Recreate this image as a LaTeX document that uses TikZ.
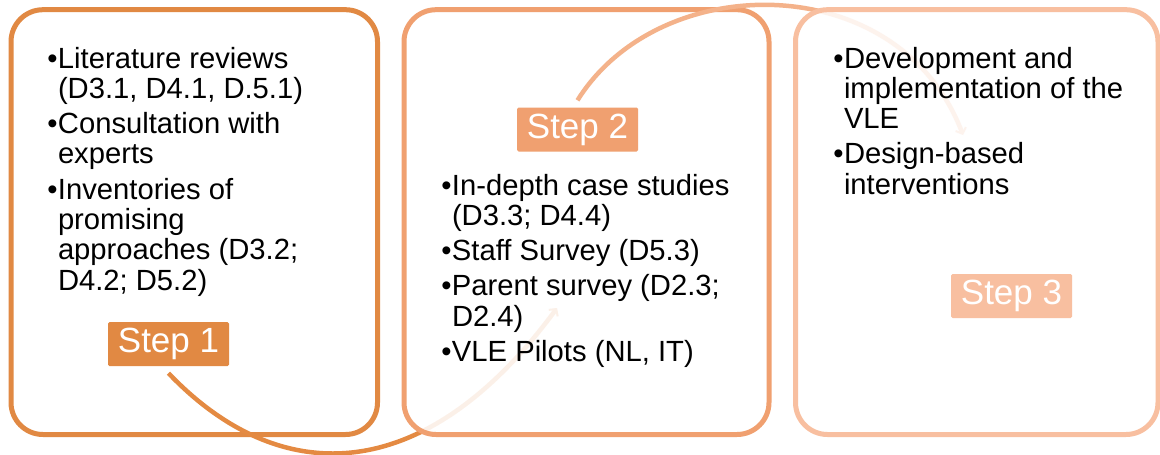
\documentclass[tikz,border=0pt]{standalone}
\usepackage{fontspec}
\setmainfont{Liberation Sans}
\usetikzlibrary{arrows.meta,calc}

\definecolor{stepA}{RGB}{225,137,67}
\definecolor{stepB}{RGB}{240,160,112}
\definecolor{stepC}{RGB}{248,191,160}
\definecolor{arcA}{RGB}{228,138,66}
\definecolor{arcB}{RGB}{244,178,138}

% bullet list lines: first line of an item carries the bullet in the margin
\newcommand\firstline[1]{\hbox{\llap{•\hspace{0.5pt}}#1}}
\newcommand\moreline[1]{\hbox{#1}}
\newcommand\itemgap{\vskip5pt}

\tikzset{
  stage/.style={draw=#1, fill=white, line width=5pt, rounded corners=32pt,
    minimum height=424.8pt, inner sep=0pt, outer sep=0pt},
  steplabel/.style={fill=#1, text=white, font=\fontsize{35}{40}\selectfont,
    minimum width=121pt, minimum height=44pt, inner sep=0pt, rounded corners=1.5pt},
  bullets/.style={anchor=base west, inner sep=0pt, outer sep=0pt,
    font=\fontsize{29.2}{30.3}\selectfont},
  flow/.style={draw=#1, line width=4.5pt,
    -{Straight Barb[length=5pt,width=11pt,line width=2pt]}},
}

\begin{document}
\begin{tikzpicture}[x=1pt,y=-1pt]
\useasboundingbox (0,0) rectangle (1160,455);

% stage 1
\node[stage=stepA, minimum width=366.5pt] (box1) at (194.25,222.1) {};
\node[bullets] (txt1) at (58,68) {\vtop{%
  \firstline{Literature reviews}
  \moreline{(D3.1, D4.1, D.5.1)}
  \itemgap
  \firstline{Consultation with}
  \moreline{experts}
  \itemgap
  \firstline{Inventories of}
  \moreline{promising}
  \moreline{approaches (D3.2;}
  \moreline{D4.2; D5.2)}}};
\node[steplabel=stepA] (s1) at (168.5,344) {Step 1};
\coordinate (a1end) at (557,308);
\draw[flow=arcA] ($(s1.south)+(0,7)$) .. controls (280,490) and (425,488) .. (a1end);

% stage 2 (translucent white fill dims the arrow beneath it)
\node[stage=stepB, fill opacity=0.88, minimum width=365pt] (box2) at (586.5,222.1) {};
\node[bullets] (txt2) at (452,195) {\vtop{%
  \firstline{In-depth case studies}
  \moreline{(D3.3; D4.4)}
  \itemgap
  \firstline{Staff Survey (D5.3)}
  \itemgap
  \firstline{Parent survey (D2.3;}
  \moreline{D2.4)}
  \itemgap
  \firstline{VLE Pilots (NL, IT)}}};
\node[steplabel=stepB] (s2) at (577.5,129.5) {Step 2};
\coordinate (a2end) at (963,135);
\draw[flow=arcB] ($(s2.north)+(0,-7)$) .. controls (660,-32) and (900,-32) .. (a2end);

% stage 3
\node[stage=stepC, fill opacity=0.85, minimum width=362.5pt] (box3) at (976.75,222.1) {};
\node[bullets] (txt3) at (844,68) {\vtop{%
  \firstline{Development and}
  \moreline{implementation of the}
  \moreline{VLE}
  \itemgap
  \firstline{Design-based}
  \moreline{interventions}}};
\node[steplabel=stepC] (s3) at (1011.5,296) {Step 3};
\end{tikzpicture}
\end{document}
